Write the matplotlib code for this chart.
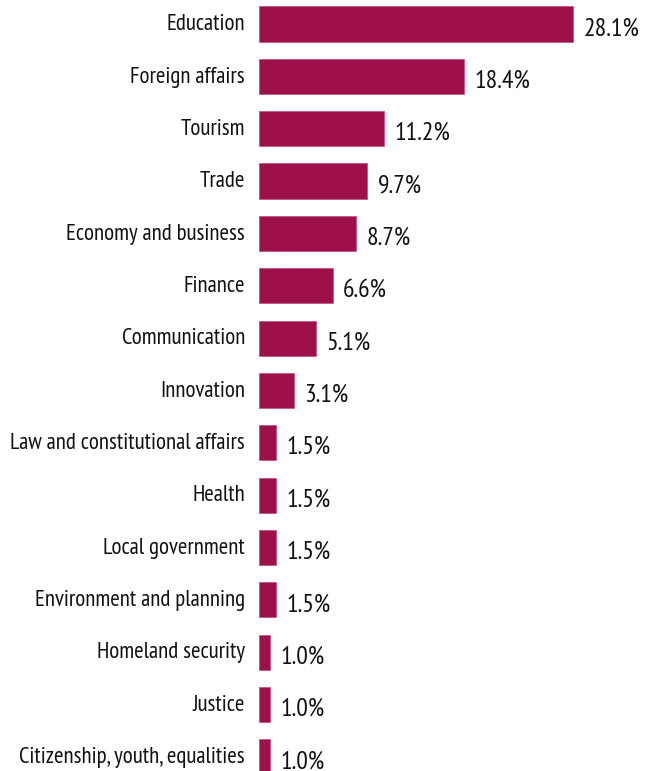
import matplotlib
matplotlib.use("Agg")
import matplotlib.pyplot as plt

categories = [
    "Education", "Foreign affairs", "Tourism", "Trade", "Economy and business",
    "Finance", "Communication", "Innovation", "Law and constitutional affairs",
    "Health", "Local government", "Environment and planning",
    "Homeland security", "Justice", "Citizenship, youth, equalities",
]
shares = [28.1, 18.4, 11.2, 9.7, 8.7, 6.6, 5.1, 3.1, 1.5, 1.5, 1.5, 1.5, 1.0, 1.0, 1.0]

BAR = "#9e1049"
plt.rcParams["font.family"] = ["PT Sans Narrow", "DejaVu Sans"]

fig = plt.figure(figsize=(6.51, 7.71), dpi=100)
ax = fig.add_axes([259 / 651, 0, 1 - 259 / 651, 1])

ypos = range(len(categories))
ax.barh(ypos, shares, height=0.67, color=BAR, edgecolor="#c2588a", linewidth=0.6)
for y, v in zip(ypos, shares):
    ax.annotate(f"{v:.1f}%", (v, y), xytext=(7.5, -3.5), textcoords="offset points",
                va="center", ha="left", fontsize=18.5, color="#111111")
for y, name in zip(ypos, categories):
    ax.annotate(name, (0, y), xytext=(-10, -0.5), textcoords="offset points",
                va="center", ha="right", fontsize=16.5, color="#111111",
                annotation_clip=False)

ax.set_xlim(0, 35.1)
ax.set_ylim(14.27, -0.458)
ax.axis("off")

fig.savefig("out.png", dpi=100)
